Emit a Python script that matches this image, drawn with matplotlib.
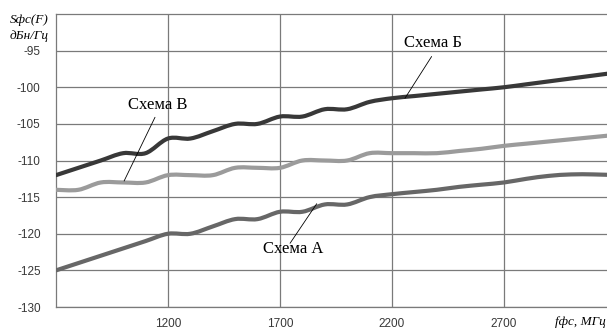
import numpy as np
import matplotlib
matplotlib.use('Agg')
import matplotlib.pyplot as plt
from matplotlib.path import Path
from matplotlib.patches import PathPatch

plt.rcParams['axes.unicode_minus'] = False

# frequency, MHz
freq = list(range(700, 3300, 100))

# noise level, dBc/Hz
scheme_a = [-125, -124, -123, -122, -121, -120, -120, -119, -118, -118, -117, -117, -116,
            -116, -115, -114.6, -114.3, -114, -113.6, -113.3, -113, -112.5, -112.1, -111.9,
            -111.9, -112.0]
scheme_b = [-112, -111, -110, -109, -109, -107, -107, -106, -105, -105, -104, -104, -103,
            -103, -102, -101.5, -101.2, -100.9, -100.6, -100.3, -100, -99.6, -99.2, -98.8,
            -98.4, -98.0]
scheme_v = [-114, -114, -113, -113, -113, -112, -112, -112, -111, -111, -111, -110, -110,
            -110, -109, -109, -109, -109, -108.7, -108.4, -108, -107.7, -107.4, -107.1,
            -106.8, -106.5]

xticks = [1200, 1700, 2200, 2700]
yticks = [-130, -125, -120, -115, -110, -105, -100, -95]


def smooth_path(x, y, t=1/6):
    # bezier through the points, like excel "smoothed line"
    x = np.asarray(x, float)
    y = np.asarray(y, float)
    n = len(x)
    verts = [(x[0], y[0])]
    codes = [Path.MOVETO]
    for i in range(n - 1):
        xp, yp = (x[i-1], y[i-1]) if i > 0 else (x[i], y[i])
        xn, yn = (x[i+2], y[i+2]) if i + 2 < n else (x[i+1], y[i+1])
        c1 = (x[i] + (x[i+1] - xp) * t, y[i] + (y[i+1] - yp) * t)
        c2 = (x[i+1] - (xn - x[i]) * t, y[i+1] - (yn - y[i]) * t)
        verts += [c1, c2, (x[i+1], y[i+1])]
        codes += [Path.CURVE4] * 3
    return Path(verts, codes)


fig = plt.figure(figsize=(6.07, 3.29), dpi=100)
ax = fig.add_axes([56/607, 22/329, 551/607, 293/329])
ax.set_xlim(700, 3160)
ax.set_ylim(-130, -90)

grid_c = '#7a7a7a'
ax.set_xticks(xticks)
ax.set_yticks(yticks)
ax.grid(True, color=grid_c, lw=0.9)
ax.set_axisbelow(True)
for s in ['left', 'bottom', 'top']:
    ax.spines[s].set_color(grid_c)
    ax.spines[s].set_linewidth(0.9)
ax.spines['right'].set_visible(False)
ax.tick_params(length=0, labelsize=8.5, labelcolor='#383838')
ax.tick_params(axis='y', pad=11)
ax.tick_params(axis='x', pad=8)
for lab in ax.get_xticklabels() + ax.get_yticklabels():
    lab.set_family('Liberation Sans')

for vals, col in [(scheme_a, '#676767'), (scheme_v, '#9b9b9b'), (scheme_b, '#383838')]:
    ax.add_patch(PathPatch(smooth_path(freq, vals), fill=False, edgecolor=col, lw=3,
                           capstyle='round', joinstyle='round', zorder=3))

serif = 'Liberation Serif'
lead = dict(arrowstyle='-', color='black', lw=0.6, shrinkA=0, shrinkB=0)
ax.annotate('', xy=(2258, -101.5), xytext=(2377, -95.8), arrowprops=lead, zorder=4)
ax.text(2383, -94.0, 'Схема Б', family=serif, fontsize=12, ha='center', va='center')
ax.annotate('', xy=(1004, -112.8), xytext=(1142, -104.1), arrowprops=lead, zorder=4)
ax.text(1155, -102.4, 'Схема В', family=serif, fontsize=12, ha='center', va='center')
ax.annotate('', xy=(1864, -115.9), xytext=(1745, -121.3), arrowprops=lead, zorder=4)
ax.text(1758, -122.1, 'Схема А', family=serif, fontsize=12, ha='center', va='center')

fig.text(49/607, 1 - 20/329, 'Sфс(F)', family=serif, style='italic', fontsize=9.5,
         ha='right', va='center')
fig.text(49/607, 1 - 36/329, 'дБн/Гц', family=serif, style='italic', fontsize=9.5,
         ha='right', va='center')
fig.text(606/607, 1 - 322/329, 'fфс, МГц', family=serif, style='italic', fontsize=9.5,
         ha='right', va='center')

fig.savefig('out.png', dpi=100)
